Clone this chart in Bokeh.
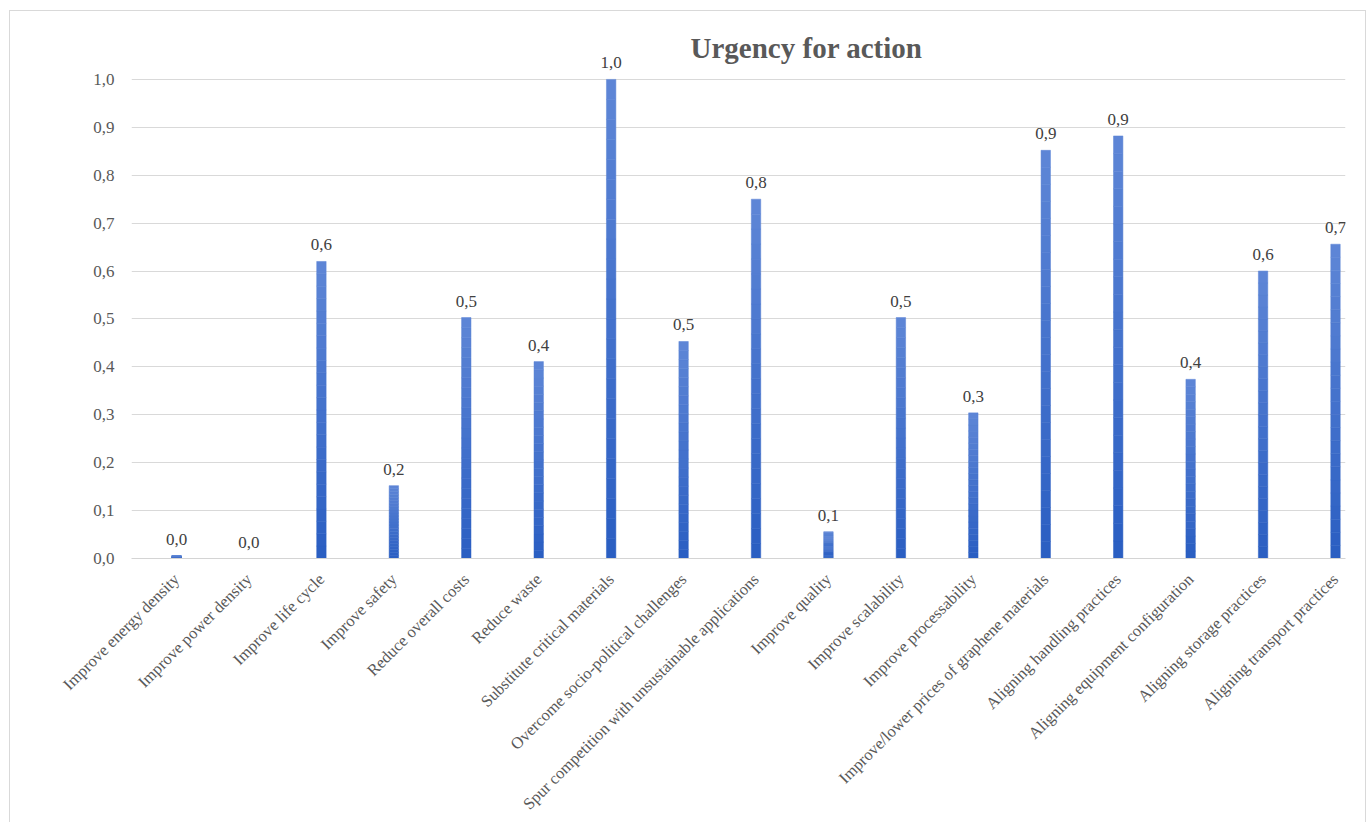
from decimal import Decimal, ROUND_HALF_UP

from bokeh.embed import file_html
from bokeh.models import ColumnDataSource, FixedTicker, Label, LabelSet, Range1d
from bokeh.plotting import figure
from bokeh.resources import INLINE

# ---- data -------------------------------------------------------------
categories = [
    "Improve energy density",
    "Improve power density",
    "Improve life cycle",
    "Improve safety",
    "Reduce overall costs",
    "Reduce waste",
    "Substitute critical materials",
    "Overcome socio-political challenges",
    "Spur competition with unsustainable applications",
    "Improve quality",
    "Improve scalability",
    "Improve processability",
    "Improve/lower prices of graphene materials",
    "Aligning handling practices",
    "Aligning equipment configuration",
    "Aligning storage practices",
    "Aligning transport practices",
]
urgency = [0.006, 0.0, 0.62, 0.152, 0.503, 0.411, 1.0, 0.453, 0.75, 0.056,
           0.503, 0.304, 0.852, 0.882, 0.374, 0.60, 0.656]
y_ticks = [0.0, 0.1, 0.2, 0.3, 0.4, 0.5, 0.6, 0.7, 0.8, 0.9, 1.0]
y_tick_labels = ["0,0", "0,1", "0,2", "0,3", "0,4", "0,5", "0,6", "0,7", "0,8", "0,9", "1,0"]

FONT = "Liberation Serif"
GREY = "#595959"


def comma_label(v):
    d = Decimal(str(v)).quantize(Decimal("0.1"), rounding=ROUND_HALF_UP)
    return str(d).replace(".", ",")


positions = list(range(len(categories)))

# headroom above 1.0 so the top value label and the title stay inside the frame
p = figure(
    width=1357, height=812,
    x_range=Range1d(-0.622, 16.138), y_range=Range1d(0, 531 / 480),
    output_backend="svg", toolbar_location=None,
    min_border_left=121, min_border_right=22,
    min_border_top=17, min_border_bottom=263,
    background_fill_color="white", border_fill_color="white",
    margin=(10, 0, 0, 9),
)
p.styles = {
    "border-top": "1px solid #d9d9d9",
    "border-left": "1px solid #d9d9d9",
    "border-right": "1px solid #d9d9d9",
}
p.outline_line_color = None

# ---- bars with a vertical light-to-dark gradient ------------------------
n_steps = 24
top_rgb = (0x5E, 0x86, 0xD6)
bot_rgb = (0x2A, 0x5E, 0xC2)
seg_x, seg_bottom, seg_top, seg_color = [], [], [], []
for xi, v in zip(positions, urgency):
    if v <= 0:
        continue
    for k in range(n_steps):
        f = (k + 0.5) / n_steps
        c = tuple(round(b + (t - b) * f) for t, b in zip(top_rgb, bot_rgb))
        seg_x.append(xi)
        seg_bottom.append(v * k / n_steps)
        seg_top.append(v * (k + 1) / n_steps)
        seg_color.append("#%02x%02x%02x" % c)

bars = ColumnDataSource(dict(x=seg_x, bottom=seg_bottom, top=seg_top, color=seg_color))
p.vbar(x="x", bottom="bottom", top="top", width=0.13, source=bars,
       fill_color="color", line_color="color", line_width=0.5)

# ---- value labels ---------------------------------------------------------
lab = ColumnDataSource(dict(x=positions, y=urgency, text=[comma_label(v) for v in urgency]))
p.add_layout(LabelSet(
    x="x", y="y", text="text", source=lab,
    y_offset=11, text_align="center", text_baseline="alphabetic",
    text_font=FONT, text_font_size="17px", text_color="#404040",
))

# ---- axes -------------------------------------------------------------
p.xgrid.grid_line_color = None
p.ygrid.grid_line_color = "#d9d9d9"
p.ygrid.grid_line_width = 1
p.yaxis.ticker = FixedTicker(ticks=y_ticks)
p.yaxis.major_label_overrides = {t: s for t, s in zip(y_ticks, y_tick_labels)}
p.yaxis.axis_line_color = None
p.yaxis.major_tick_line_color = None
p.yaxis.minor_tick_line_color = None
p.yaxis.major_label_standoff = 11
p.yaxis.major_label_text_font = FONT
p.yaxis.major_label_text_font_size = "17px"
p.yaxis.major_label_text_color = GREY

p.xaxis.ticker = FixedTicker(ticks=positions)
p.xaxis.major_label_overrides = {i: c for i, c in zip(positions, categories)}
p.xaxis.major_label_orientation = 0.7854
p.xaxis.axis_line_color = "#d4d4d4"
p.xaxis.major_tick_line_color = None
p.xaxis.minor_tick_line_color = None
p.xaxis.major_label_standoff = 12
p.xaxis.major_label_text_font = FONT
p.xaxis.major_label_text_font_size = "16.5px"
p.xaxis.major_label_text_color = GREY

# ---- title ------------------------------------------------------------
p.add_layout(Label(
    text="Urgency for action", x=675, y=511, x_units="screen", y_units="screen",
    text_align="center", text_baseline="alphabetic",
    text_font=FONT, text_font_size="29px", text_font_style="bold", text_color=GREY,
))

open("out.html", "w").write(file_html(p, INLINE))
